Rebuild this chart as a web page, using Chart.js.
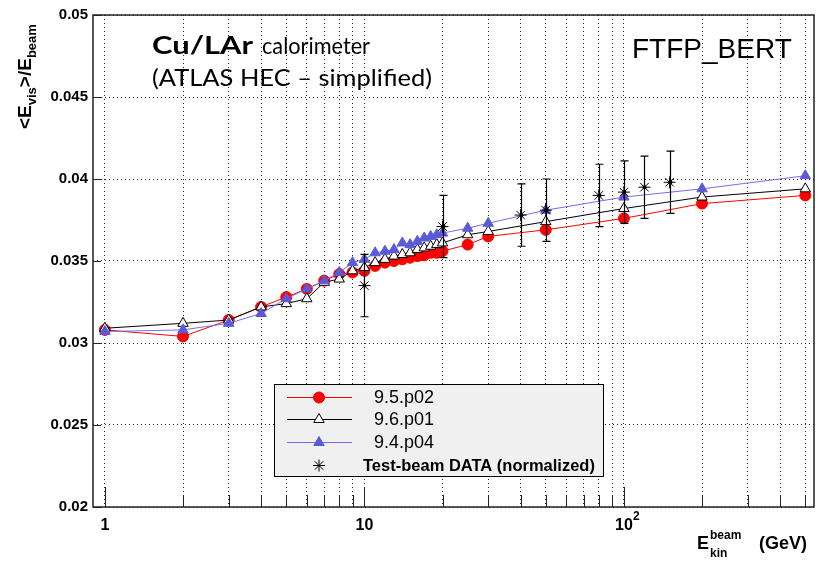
<!DOCTYPE html>
<html>
<head>
<meta charset="utf-8">
<script src="https://cdn.jsdelivr.net/npm/chart.js@4/dist/chart.umd.min.js"></script>
<style>
  html, body { margin: 0; padding: 0; background: #fff; }
  #wrap { width: 821px; height: 565px; }
</style>
</head>
<body>
<div id="wrap"><canvas id="chart" width="821" height="565"></canvas></div>
<script>
// beam energies (GeV) of the simulation points
const simEnergies = [1, 2, 3, 4, 5, 6, 7, 8, 9, 10, 11, 12, 13, 14, 15, 16, 17, 18, 19, 20, 25, 30, 50, 100, 200, 500];
const g4_95p02 = [0.0308, 0.0304, 0.0314, 0.0322, 0.0328, 0.0333, 0.0338, 0.0342, 0.0343, 0.0344, 0.0347, 0.0349, 0.0350, 0.0351, 0.0352, 0.0353, 0.03535, 0.0355, 0.0355, 0.0356, 0.0360, 0.0365, 0.0369, 0.0376, 0.0385, 0.0390];
const g4_96p01 = [0.0309, 0.0312, 0.0314, 0.0322, 0.0324, 0.0327, 0.0337, 0.0339, 0.0344, 0.0346, 0.0349, 0.0351, 0.0353, 0.0354, 0.0355, 0.0357, 0.0358, 0.0359, 0.0360, 0.0361, 0.0366, 0.0368, 0.0374, 0.0382, 0.0389, 0.0394];
const g4_94p04 = [0.0307, 0.0308, 0.0312, 0.0318, 0.0327, 0.0333, 0.0338, 0.0343, 0.0349, 0.0351, 0.0355, 0.0356, 0.0357, 0.0361, 0.0360, 0.0362, 0.0364, 0.0365, 0.0366, 0.0367, 0.0370, 0.0373, 0.0381, 0.0389, 0.0394, 0.0402];

// test-beam data
const tbEnergies = [10, 20, 40, 50, 80, 100, 120, 150];
const tbValues = [0.0335, 0.0371, 0.0378, 0.0381, 0.0390, 0.0392, 0.0395, 0.0398];
const tbErrors = [0.0019, 0.0019, 0.0019, 0.0019, 0.0019, 0.0019, 0.0019, 0.0019];

// axis ticks
const xTicks = [1, 2, 3, 4, 5, 6, 7, 8, 9, 10, 20, 30, 40, 50, 60, 70, 80, 90, 100, 200, 300, 400, 500];
const xLabels = { 1: '1', 10: '10', 100: '10' };  // 100 gets its exponent drawn separately

const seriesNames = ['9.5.p02', '9.6.p01', '9.4.p04'];
const dataName = 'Test-beam DATA (normalized)';

function pts(xs, ys) {
    return xs.map((x, i) => ({ x: x, y: ys[i] }));
}

function marker(ctx, style, x, y, r, fill, stroke) {
    ctx.save();
    ctx.beginPath();
    if (style === 'circle') {
        ctx.arc(x, y, r, 0, Math.PI * 2);
    } else if (style === 'triangle') {
        ctx.moveTo(x, y - r);
        ctx.lineTo(x + Math.sin(2 * Math.PI / 3) * r, y - Math.cos(2 * Math.PI / 3) * r);
        ctx.lineTo(x + Math.sin(4 * Math.PI / 3) * r, y - Math.cos(4 * Math.PI / 3) * r);
        ctx.closePath();
    } else if (style === 'star') {
        for (let k = 0; k < 4; k++) {
            const a = k * Math.PI / 4;
            ctx.moveTo(x - Math.cos(a) * r, y - Math.sin(a) * r);
            ctx.lineTo(x + Math.cos(a) * r, y + Math.sin(a) * r);
        }
    }
    if (fill && style !== 'star') { ctx.fillStyle = fill; ctx.fill(); }
    if (stroke) { ctx.strokeStyle = stroke; ctx.lineWidth = 1; ctx.stroke(); }
    ctx.restore();
}

// text squeezed/stretched to a given width (stand-in for Gill Sans)
function fitText(ctx, txt, x, y, width) {
    const w = ctx.measureText(txt).width;
    ctx.save();
    ctx.translate(x, y);
    ctx.scale(width / w, 1);
    ctx.fillText(txt, 0, 0);
    ctx.restore();
}

const decorPlugin = {
    id: 'decor',
    afterDatasetsDraw(chart) {
        const ctx = chart.ctx;
        const xs = chart.scales.x, ys = chart.scales.y;
        ctx.save();
        ctx.strokeStyle = '#000';
        ctx.lineWidth = 1.2;
        tbEnergies.forEach((e, i) => {
            const px = Math.round(xs.getPixelForValue(e)) + 0.5;
            const top = ys.getPixelForValue(tbValues[i] + tbErrors[i]);
            const bot = ys.getPixelForValue(tbValues[i] - tbErrors[i]);
            ctx.beginPath();
            ctx.moveTo(px, top); ctx.lineTo(px, bot);
            ctx.moveTo(px - 4, top); ctx.lineTo(px + 4, top);
            ctx.moveTo(px - 4, bot); ctx.lineTo(px + 4, bot);
            ctx.stroke();
            ctx.beginPath();
            ctx.arc(px, ys.getPixelForValue(tbValues[i]), 2, 0, Math.PI * 2);
            ctx.fillStyle = '#000';
            ctx.fill();
        });
        ctx.restore();
    },
    afterDraw(chart) {
        const ctx = chart.ctx;
        const a = chart.chartArea;
        const xs = chart.scales.x, ys = chart.scales.y;
        ctx.save();

        // frame and inner tick marks
        ctx.strokeStyle = '#222';
        ctx.lineWidth = 1.5;
        ctx.strokeRect(a.left, a.top, a.right - a.left, a.bottom - a.top);
        ctx.lineWidth = 1;
        ctx.beginPath();
        xTicks.forEach(t => {
            const px = Math.round(xs.getPixelForValue(t)) + 0.5;
            const len = xLabels[t] ? 20 : 12;
            ctx.moveTo(px, a.bottom);
            ctx.lineTo(px, a.bottom - len);
        });
        ys.ticks.forEach(t => {
            const py = Math.round(ys.getPixelForValue(t.value)) + 0.5;
            ctx.moveTo(a.left, py);
            ctx.lineTo(a.left + 8, py);
        });
        ctx.stroke();

        // exponent of the 10^2 tick label
        ctx.fillStyle = '#000';
        ctx.textAlign = 'left';
        ctx.textBaseline = 'alphabetic';
        ctx.font = 'bold 12px "Liberation Sans", Arial';
        ctx.fillText('2', xs.getPixelForValue(100) + 9, 520);

        // annotation text
        ctx.font = 'bold 24px Lato';
        fitText(ctx, 'Cu/LAr', 152, 54, 101);
        ctx.font = '23px Lato';
        fitText(ctx, 'calorimeter', 262, 54, 108);
        fitText(ctx, '(ATLAS HEC \u2013 simplified)', 152, 86, 280);
        ctx.font = '28px "Liberation Sans", Arial';
        ctx.fillText('FTFP_BERT', 632, 58);

        // x axis title
        ctx.font = 'bold 18px "Liberation Sans", Arial';
        ctx.fillText('E', 697, 549);
        ctx.fillText('(GeV)', 759, 549);
        ctx.font = 'bold 12px "Liberation Sans", Arial';
        ctx.fillText('beam', 710, 539);
        ctx.fillText('kin', 710, 557);

        // y axis title (rotated)
        ctx.save();
        ctx.translate(31, 129);
        ctx.rotate(-Math.PI / 2);
        let cx = 0;
        const part = (txt, size, dy) => {
            ctx.font = 'bold ' + size + 'px "Liberation Sans", Arial';
            ctx.fillText(txt, cx, dy);
            cx += ctx.measureText(txt).width;
        };
        part('<E', 19, 0);
        part('vis', 13, 5);
        part('>/E', 19, 0);
        part('beam', 13, 5);
        ctx.restore();

        // legend box
        const lx = 274.5, ly = 384.5, lw = 329, lh = 92;
        ctx.fillStyle = '#f0f0f0';
        ctx.fillRect(lx, ly, lw, lh);
        ctx.strokeStyle = '#000';
        ctx.lineWidth = 1;
        ctx.strokeRect(lx, ly, lw, lh);
        const rows = [397, 419, 442, 465];
        const lineCols = ['#ff0000', '#000000', '#6f6fef'];
        const styles = [['circle', 5.5, '#ff0000', '#ff0000'], ['triangle', 6, '#ffffff', '#000000'], ['triangle', 6, '#5a5ad8', '#5a5ad8']];
        for (let i = 0; i < 3; i++) {
            ctx.beginPath();
            ctx.strokeStyle = lineCols[i];
            ctx.moveTo(287, rows[i] + 0.5);
            ctx.lineTo(352, rows[i] + 0.5);
            ctx.stroke();
            marker(ctx, styles[i][0], 319, rows[i] + 0.5, styles[i][1], styles[i][2], styles[i][3]);
            ctx.fillStyle = '#000';
            ctx.font = '18px "Liberation Sans", Arial';
            ctx.textBaseline = 'middle';
            ctx.fillText(seriesNames[i], 374, rows[i] + 1);
        }
        marker(ctx, 'star', 319, rows[3] + 0.5, 6, null, '#000');
        ctx.font = 'bold 16.5px "Liberation Sans", Arial';
        ctx.fillText(dataName, 363, rows[3] + 1);
        ctx.restore();
    }
};

const ctx = document.getElementById('chart').getContext('2d');
new Chart(ctx, {
    type: 'line',
    data: {
        datasets: [
            {
                label: seriesNames[0], data: pts(simEnergies, g4_95p02),
                borderColor: '#ff0000', borderWidth: 1, backgroundColor: '#ff0000',
                pointStyle: 'circle', pointRadius: 5.5, pointBorderColor: '#ff0000', order: 3
            },
            {
                label: seriesNames[1], data: pts(simEnergies, g4_96p01),
                borderColor: '#000000', borderWidth: 1, pointBackgroundColor: '#ffffff',
                pointStyle: 'triangle', pointRadius: 6, pointBorderColor: '#000000', pointBorderWidth: 1, order: 2
            },
            {
                label: seriesNames[2], data: pts(simEnergies, g4_94p04),
                borderColor: '#6f6fef', borderWidth: 1, pointBackgroundColor: '#5a5ad8',
                pointStyle: 'triangle', pointRadius: 6, pointBorderColor: '#5a5ad8', order: 1
            },
            {
                label: dataName, data: pts(tbEnergies, tbValues),
                showLine: false, borderColor: '#000', pointStyle: 'star', pointRadius: 6,
                pointBorderColor: '#000', pointBorderWidth: 1, order: 0
            }
        ]
    },
    options: {
        responsive: false,
        animation: false,
        events: [],
        layout: { padding: { top: 15, right: 1, left: 0, bottom: 0 } },
        plugins: { legend: { display: false }, tooltip: { enabled: false } },
        elements: { line: { tension: 0 } },
        scales: {
            x: {
                type: 'logarithmic',
                min: 0.9, max: 540,
                bounds: 'data',
                afterBuildTicks: axis => { axis.ticks = xTicks.map(v => ({ value: v, major: !!xLabels[v] })); },
                afterFit: axis => { axis.height = 58; },
                grid: { color: 'rgba(0,0,0,0.85)', lineWidth: 1, drawTicks: false },
                border: { display: false, dash: [1, 3] },
                ticks: {
                    autoSkip: false, maxRotation: 0, padding: 9, color: '#000',
                    font: { family: '"Liberation Sans", Arial', size: 16, weight: 'bold' },
                    callback: v => xLabels[v] || ''
                }
            },
            y: {
                min: 0.02, max: 0.05,
                afterFit: axis => { axis.width = 93; },
                grid: { color: 'rgba(0,0,0,0.85)', lineWidth: 1, drawTicks: false },
                border: { display: false, dash: [1, 3] },
                ticks: {
                    stepSize: 0.005, padding: 5, color: '#000',
                    font: { family: '"Liberation Sans", Arial', size: 15, weight: 'bold' },
                    callback: v => String(parseFloat(v.toFixed(4)))
                }
            }
        }
    },
    plugins: [decorPlugin]
});
</script>
</body>
</html>
